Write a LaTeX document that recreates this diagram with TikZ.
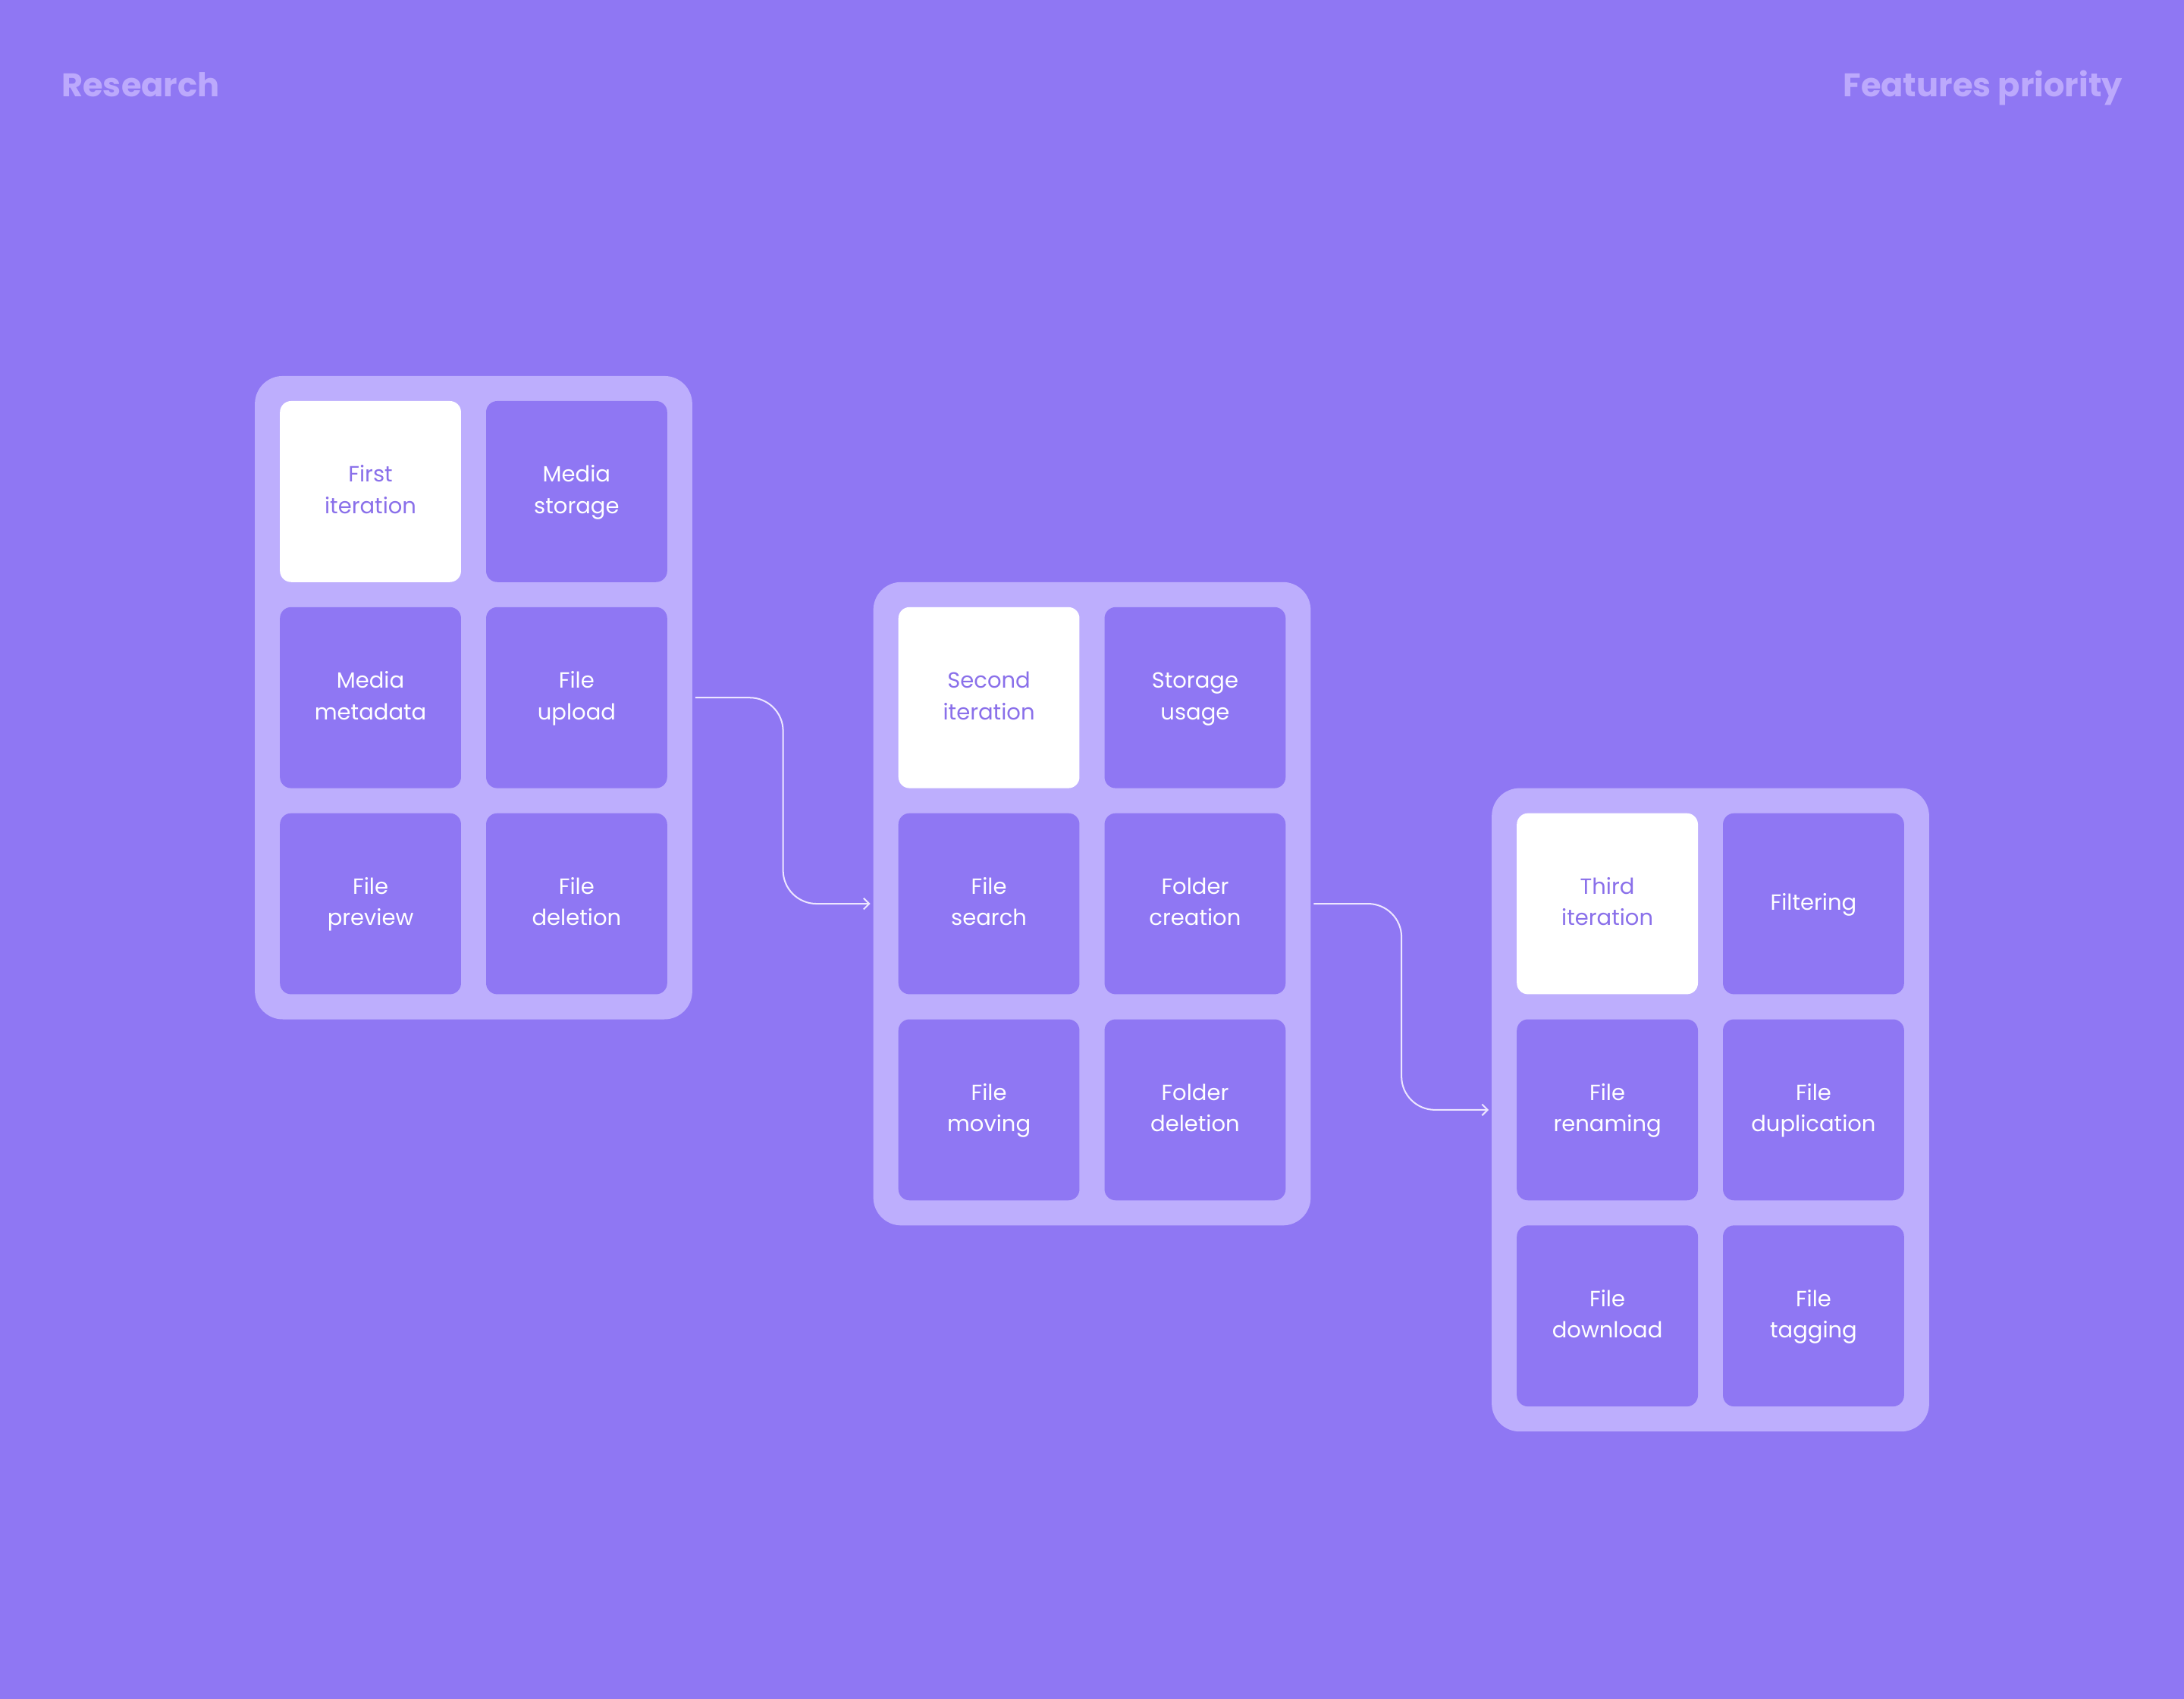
\documentclass[tikz,border=0pt]{standalone}
\usepackage{fontspec}
\setmainfont{Poppins}
\usepackage{tikz}
\usetikzlibrary{arrows.meta}

\definecolor{bgviolet}{HTML}{8F77F3}
\definecolor{panelviolet}{HTML}{BDAEFD}
\definecolor{cardtext}{HTML}{8A70EA}
\definecolor{headtext}{HTML}{BCA9FC}
\definecolor{flowline}{HTML}{EDE6FF}

% two centred lines with equal struts
\newcommand{\twolines}[2]{\strut#1\\\strut#2}

\tikzset{
  panel/.style={fill=panelviolet,rounded corners=20pt,minimum width=314pt,minimum height=462pt,inner sep=0pt},
  card/.style={fill=bgviolet,rounded corners=8pt,minimum width=130pt,minimum height=130pt,inner sep=0pt,
    align=center,text=white,font=\fontsize{15.8}{22.5}\selectfont},
  startcard/.style={card,fill=white,text=cardtext},
  headline/.style={text=headtext,font=\fontsize{23.5}{28}\selectfont\bfseries,inner sep=0pt},
  flow/.style={draw=flowline,line width=1.1pt,rounded corners=24pt,-{Straight Barb[length=4pt,width=8pt]},
    shorten <=2pt,shorten >=2pt}
}

\begin{document}
\begin{tikzpicture}[x=1pt,y=-1pt]
  \fill[bgviolet] (0,0) rectangle (1568,1220);
  \useasboundingbox (0,0) rectangle (1568,1220);

  \node[headline,anchor=base west] (research) at (44,69.5) {Research};
  \node[headline,anchor=base east] (priority) at (1524,69.5) {Features priority};

  % first iteration
  \node[panel] (p1) at (340,501) {};
  \node[startcard] (first) at (266,353) {\twolines{First}{iteration}};
  \node[card] (mstorage) at (414,353) {\twolines{Media}{storage}};
  \node[card] (mmeta) at (266,501) {\twolines{Media}{metadata}};
  \node[card] (fupload) at (414,501) {\twolines{File}{upload}};
  \node[card] (fpreview) at (266,649) {\twolines{File}{preview}};
  \node[card] (fdelete) at (414,649) {\twolines{File}{deletion}};

  % second iteration
  \node[panel] (p2) at (784,649) {};
  \node[startcard] (second) at (710,501) {\twolines{Second}{iteration}};
  \node[card] (susage) at (858,501) {\twolines{Storage}{usage}};
  \node[card] (fsearch) at (710,649) {\twolines{File}{search}};
  \node[card] (dcreate) at (858,649) {\twolines{Folder}{creation}};
  \node[card] (fmove) at (710,797) {\twolines{File}{moving}};
  \node[card] (ddelete) at (858,797) {\twolines{Folder}{deletion}};

  % third iteration
  \node[panel] (p3) at (1228,797) {};
  \node[startcard] (third) at (1154,649) {\twolines{Third}{iteration}};
  \node[card] (filter) at (1302,649) {\strut Filtering};
  \node[card] (frename) at (1154,797) {\twolines{File}{renaming}};
  \node[card] (fdup) at (1302,797) {\twolines{File}{duplication}};
  \node[card] (fdown) at (1154,945) {\twolines{File}{download}};
  \node[card] (ftag) at (1302,945) {\twolines{File}{tagging}};

  \draw[flow] (p1.east) -- ++(65,0) |- (p2.west);
  \draw[flow] (p2.east) -- ++(65,0) |- (p3.west);
\end{tikzpicture}
\end{document}
